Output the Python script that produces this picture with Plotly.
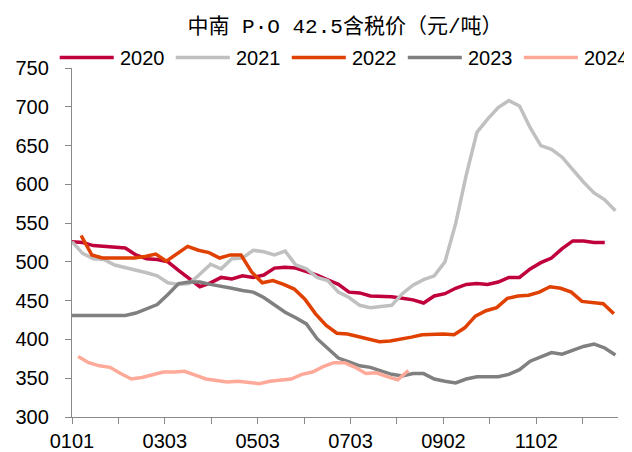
import plotly.graph_objects as go

# weekly prices, 元/吨
years = ['2020', '2021', '2022', '2023', '2024']
colors = ['#C0003C', '#C0C0C0', '#E04000', '#808080', '#FFAA99']
first_day = [0, 0, 6, 0, 4]  # day of year of first weekly quote

price_2020 = [526, 525, 521, 520, 519, 518, 509, 504, 503, 500, 489, 478, 468, 473,
              480, 478, 482, 480, 483, 492, 493, 492, 488, 483, 477, 471, 461, 460,
              456, 456, 455, 453, 451, 447, 456, 459, 466, 471, 472, 471, 474, 480,
              480, 491, 499, 505, 517, 527, 527, 525, 525]
price_2021 = [526, 511, 504, 503, 496, 493, 490, 486, 482, 473, 471, 472, 484, 497,
              491, 504, 505, 515, 513, 509, 514, 496, 491, 480, 476, 461, 454, 444,
              441, 443, 444, 459, 470, 477, 482, 500, 549, 612, 667, 684, 699, 708,
              701, 673, 650, 645, 635, 619, 603, 589, 580, 566]
price_2022 = [534, 509, 505, 505, 505, 505, 507, 510, 501, 511, 520, 515, 512, 505,
              509, 509, 487, 473, 476, 471, 465, 452, 433, 418, 408, 407, 404, 400,
              397, 398, 400, 403, 406, 407, 407, 406, 415, 430, 437, 441, 453, 456,
              457, 461, 468, 466, 461, 449, 447, 446, 433]
price_2023 = [431, 431, 431, 431, 431, 431, 434, 439, 445, 458, 472, 474, 474, 471,
              469, 466, 463, 461, 454, 444, 435, 428, 420, 401, 389, 376, 371, 366,
              364, 360, 355, 353, 356, 356, 349, 346, 344, 349, 352, 352, 352, 355,
              361, 372, 377, 383, 381, 386, 391, 394, 389, 380]
price_2024 = [378, 370, 366, 364, 356, 349, 351, 354, 358, 358, 359, 354, 349, 347,
              345, 346, 345, 343, 346, 347, 349, 355, 358, 365, 370, 370, 364, 356,
              357, 352, 348, 360]

tick_text = ['0101', '', '0303', '', '0503', '', '0703', '', '0902', '', '1102', '']

series = [price_2020, price_2021, price_2022, price_2023, price_2024]

fig = go.Figure()
for name, color, start, values in zip(years, colors, first_day, series):
    days = [start + 7 * i for i in range(len(values))]
    fig.add_trace(go.Scatter(
        x=days, y=values, mode='lines', name=name,
        line=dict(color=color, width=3.5),
        showlegend=False
    ))

# legend drawn by hand so the swatches are as long as in the source chart
for i, (name, color) in enumerate(zip(years, colors)):
    x0 = -0.0225 + i * 0.2125
    fig.add_shape(type='line', xref='paper', yref='paper',
                  x0=x0, x1=x0 + 0.099, y0=1.03, y1=1.03,
                  line=dict(color=color, width=3.5))
    fig.add_annotation(text=name, xref='paper', yref='paper',
                       x=x0 + 0.106, y=1.03, xanchor='left', yanchor='middle',
                       showarrow=False, font=dict(size=20, color='black'))

axis_line = '#898989'
# page body adds an 8px offset, so the figure is 8px smaller than the window
fig.update_layout(
    title=dict(text='中南 P·O 42.5含税价（元/吨）', xref='paper', x=0.5,
               y=0.961, yanchor='middle',
               font=dict(family='Liberation Mono, Noto Sans CJK SC', size=21, color='black')),
    width=624, height=444,
    margin=dict(l=64, r=14, t=59.5, b=35.3),
    font=dict(family='Liberation Sans, Arial', size=20, color='black'),
    plot_bgcolor='white', paper_bgcolor='white',
    xaxis=dict(range=[0, 358.7], tickvals=[i * 30.5 for i in range(12)], ticktext=tick_text,
               showgrid=False, zeroline=False, showline=True, linecolor=axis_line, linewidth=1.3,
               ticks='outside', ticklen=6, tickcolor=axis_line, tickwidth=1.3,
               ticklabelstandoff=0, automargin=False),
    yaxis=dict(range=[300, 750], dtick=50, tick0=300,
               showgrid=False, zeroline=False, showline=True, linecolor=axis_line, linewidth=1.3,
               ticks='outside', ticklen=6, tickcolor=axis_line, tickwidth=1.3,
               ticklabelstandoff=12, automargin=False),
)

fig.write_html('out.html')
